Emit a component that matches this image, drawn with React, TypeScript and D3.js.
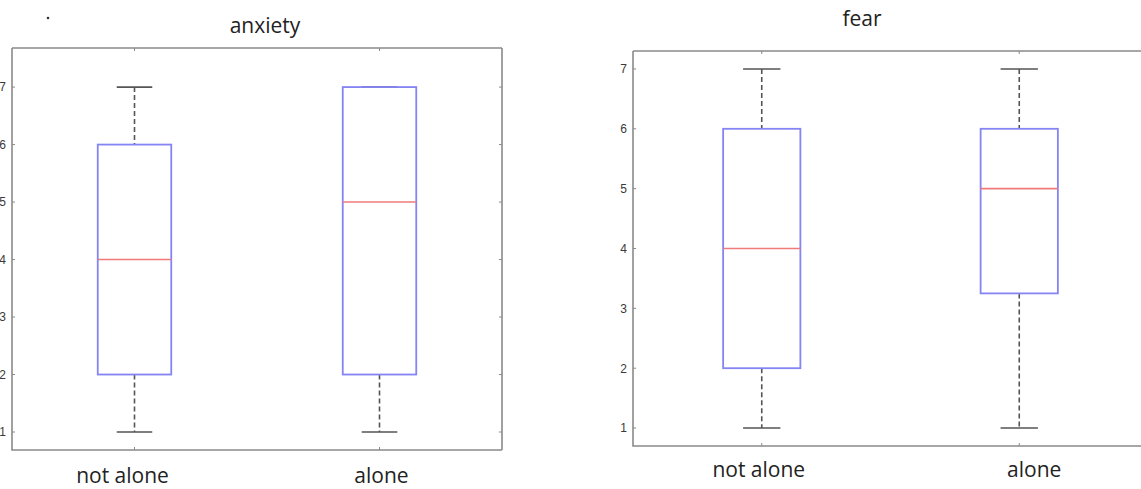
import React from "react";
import * as d3 from "d3";

const categories = ["not alone", "alone"];
// [lower whisker, q1, median, q3, upper whisker]
const anxietyStats = [
  [1, 2, 4, 6, 7],
  [1, 2, 5, 7, 7],
];
const fearStats = [
  [1, 2, 4, 6, 7],
  [1, 3.25, 5, 6, 7],
];
const yTicks = [1, 2, 3, 4, 5, 6, 7];

type PanelProps = {
  title: string;
  stats: number[][];
  left: number;
  right: number;
  top: number;
  bottom: number;
  yDomain: [number, number];
  titleX: number;
  titleY: number;
  labelY: number;
  labelDx: number[];
  clipRight?: boolean;
};

const BOX_BLUE = "#8484f4";
const MED_RED = "#f07a7a";
const WHISK = "#555";
const AXIS = "#8a8a8a";
const FONT = "'Open Sans', Lato, sans-serif";

function Panel(p: PanelProps) {
  const x = d3.scaleLinear().domain([0.5, 2.5]).range([p.left, p.right]);
  const y = d3.scaleLinear().domain(p.yDomain).range([p.bottom, p.top]);
  const unit = x(1) - x(0);
  const boxW = unit * 0.3;
  const capW = unit * 0.145;
  return (
    <g>
      <text x={p.titleX} y={p.titleY} textAnchor="middle" fontFamily={FONT} fontSize={21} fill="#222">
        {p.title}
      </text>
      <path
        d={`M${p.left},${p.top}H${p.right}M${p.left},${p.top}V${p.bottom}H${p.right}` + (p.clipRight ? "" : `M${p.right},${p.top}V${p.bottom}`)}
        fill="none"
        stroke={AXIS}
        strokeWidth={1.6}
      />
      {yTicks.map((t) => (
        <g key={t}>
          <line x1={p.left} x2={p.left + 3} y1={y(t)} y2={y(t)} stroke={AXIS} strokeWidth={1} />
          {!p.clipRight && (
            <line x1={p.right} x2={p.right - 3} y1={y(t)} y2={y(t)} stroke={AXIS} strokeWidth={1} />
          )}
          <text x={p.left - 6} y={y(t)} dy="0.36em" textAnchor="end" fontFamily="'Liberation Sans', Arial, sans-serif" fontSize={12} fill="#3a3a3a">
            {t}
          </text>
        </g>
      ))}
      {categories.map((c, i) => {
        const cx = x(i + 1);
        const [lo, q1, med, q3, hi] = p.stats[i];
        return (
          <g key={c}>
            <line x1={cx} x2={cx} y1={p.top} y2={p.top + 3} stroke={AXIS} strokeWidth={1} />
            <line x1={cx} x2={cx} y1={p.bottom} y2={p.bottom - 3} stroke={AXIS} strokeWidth={1} />
            <line x1={cx} x2={cx} y1={y(hi)} y2={y(q3)} stroke={WHISK} strokeWidth={1.6} strokeDasharray="5,3" />
            <line x1={cx} x2={cx} y1={y(q1)} y2={y(lo)} stroke={WHISK} strokeWidth={1.6} strokeDasharray="5,3" />
            <line x1={cx - capW / 2} x2={cx + capW / 2} y1={y(hi)} y2={y(hi)} stroke={WHISK} strokeWidth={1.6} />
            <line x1={cx - capW / 2} x2={cx + capW / 2} y1={y(lo)} y2={y(lo)} stroke={WHISK} strokeWidth={1.6} />
            <rect x={cx - boxW / 2} y={y(q3)} width={boxW} height={y(q1) - y(q3)} fill="none" stroke={BOX_BLUE} strokeWidth={1.8} />
            <line x1={cx - boxW / 2} x2={cx + boxW / 2} y1={y(med)} y2={y(med)} stroke={MED_RED} strokeWidth={1.6} />
            <text x={cx + p.labelDx[i]} y={p.labelY} textAnchor="middle" fontFamily={FONT} fontSize={21} fill="#222">
              {c}
            </text>
          </g>
        );
      })}
    </g>
  );
}

export default function App() {
  return (
    <svg
      width={1141}
      height={489}
      style={{ position: "absolute", left: 0, top: 0, background: "#fff" }}
    >
      <rect width={1141} height={489} fill="#fff" />
      <circle cx={48} cy={18} r={1.3} fill="#333" />
      <Panel
        title="anxiety"
        stats={anxietyStats}
        left={12}
        right={502}
        top={48}
        bottom={450}
        yDomain={[0.687, 7.68]}
        titleX={265}
        titleY={33}
        labelY={483}
        labelDx={[-12, 2]}
      />
      <Panel
        title="fear"
        stats={fearStats}
        left={633}
        right={1148}
        top={51}
        bottom={446}
        yDomain={[0.7, 7.3]}
        titleX={862}
        titleY={26}
        labelY={477}
        labelDx={[-3, 15]}
        clipRight
      />
    </svg>
  );
}
